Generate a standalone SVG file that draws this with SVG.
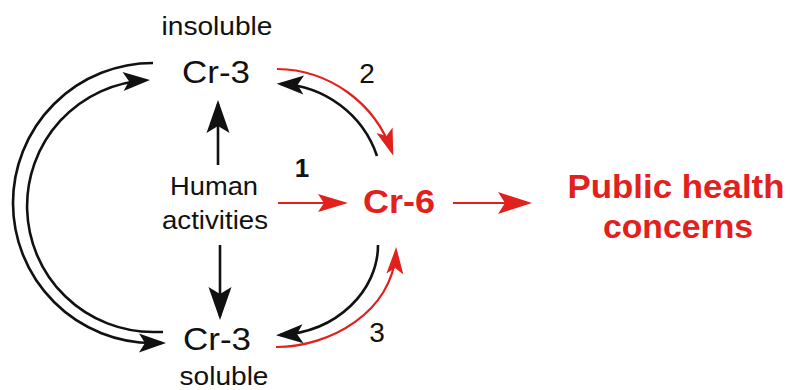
<svg xmlns="http://www.w3.org/2000/svg" width="796" height="390" viewBox="0 0 796 390">
<style>
  text { font-family: "Liberation Sans", Arial, sans-serif; text-anchor: middle; }
  .blk { fill: #111; }
  .red { fill: #e2201c; }
  .bold { font-weight: bold; }
  .lb { fill: none; stroke: #111; stroke-width: 2.6; }
  .lr { fill: none; stroke: #e2201c; stroke-width: 2.2; }
</style>
<defs>
  <marker id="mBig" markerUnits="userSpaceOnUse" markerWidth="40" markerHeight="30" refX="-4" refY="0" orient="auto" overflow="visible">
    <path d="M0,0 L-33,-11.5 L-26,0 L-33,11.5 Z" fill="#111"/>
  </marker>
  <marker id="mArc" markerUnits="userSpaceOnUse" markerWidth="30" markerHeight="20" refX="-4" refY="0" orient="auto" overflow="visible">
    <path d="M0,0 L-27,-9.5 L-21,0 L-27,9.5 Z" fill="#111"/>
  </marker>
  <marker id="rArc" markerUnits="userSpaceOnUse" markerWidth="30" markerHeight="20" refX="-4" refY="0" orient="auto" overflow="visible">
    <path d="M0,0 L-27,-8.5 L-21,0 L-27,8.5 Z" fill="#e2201c"/>
  </marker>
  <marker id="rBig" markerUnits="userSpaceOnUse" markerWidth="40" markerHeight="30" refX="-4" refY="0" orient="auto" overflow="visible">
    <path d="M0,0 L-34,-11 L-27,0 L-34,11 Z" fill="#e2201c"/>
  </marker>
  <marker id="r1" markerUnits="userSpaceOnUse" markerWidth="36" markerHeight="24" refX="-4" refY="0" orient="auto" overflow="visible">
    <path d="M0,0 L-30,-9 L-24,0 L-30,9 Z" fill="#e2201c"/>
  </marker>
</defs>

<g id="connectors">
  <!-- left loops -->
  <path class="lb" d="M153,63 A140,140 0 0 0 153,343 L162,343" marker-end="url(#mArc)"/>
  <path class="lb" d="M163,332 L153,332 A126,126 0 0 1 146,80.2" marker-end="url(#mArc)"/>
  <!-- human activities up/down -->
  <path class="lb" d="M218,165 L218,104" marker-end="url(#mBig)"/>
  <path class="lb" d="M220,245 L220,316" marker-end="url(#mBig)"/>
  <!-- reaction 1 -->
  <path class="lr" d="M278,203 L344,203" marker-end="url(#r1)"/>
  <!-- Cr-6 to public health -->
  <path class="lr" d="M453,203 L528,203" marker-end="url(#rBig)"/>
  <!-- reaction 2 (top right) -->
  <path class="lr" d="M277,69 A123,123 0 0 1 392,152" marker-end="url(#rArc)"/>
  <path class="lb" d="M377,156 A106,106 0 0 0 280.7,84" marker-end="url(#mArc)"/>
  <!-- reaction 3 (bottom right) -->
  <path class="lb" d="M378,245 C378,290 338,332 280,335" marker-end="url(#mArc)"/>
  <path class="lr" d="M276,347 C330,347 393,312 396,251" marker-end="url(#rArc)"/>
</g>

<g id="cr3-insoluble">
  <text class="blk" x="217" y="35" font-size="25" textLength="111" lengthAdjust="spacingAndGlyphs">insoluble</text>
  <text class="blk" x="216" y="83" font-size="31" textLength="68" lengthAdjust="spacingAndGlyphs">Cr-3</text>
</g>
<g id="human-activities">
  <text class="blk" x="214" y="195" font-size="25" textLength="88" lengthAdjust="spacingAndGlyphs">Human</text>
  <text class="blk" x="215" y="229" font-size="25" textLength="106" lengthAdjust="spacingAndGlyphs">activities</text>
</g>
<g id="cr3-soluble">
  <text class="blk" x="217" y="350" font-size="31" textLength="68" lengthAdjust="spacingAndGlyphs">Cr-3</text>
  <text class="blk" x="224" y="385" font-size="25" textLength="89" lengthAdjust="spacingAndGlyphs">soluble</text>
</g>
<g id="cr6">
  <text class="red bold" x="399" y="213" font-size="33" textLength="72" lengthAdjust="spacingAndGlyphs">Cr-6</text>
</g>
<g id="public-health">
  <text class="red bold" x="676" y="198" font-size="33" textLength="217" lengthAdjust="spacingAndGlyphs">Public health</text>
  <text class="red bold" x="678" y="238" font-size="33" textLength="150" lengthAdjust="spacingAndGlyphs">concerns</text>
</g>
<g id="labels">
  <text class="blk bold" x="302" y="177" font-size="26">1</text>
  <text class="blk" x="367" y="83" font-size="28">2</text>
  <text class="blk" x="377" y="342" font-size="28">3</text>
</g>
</svg>
